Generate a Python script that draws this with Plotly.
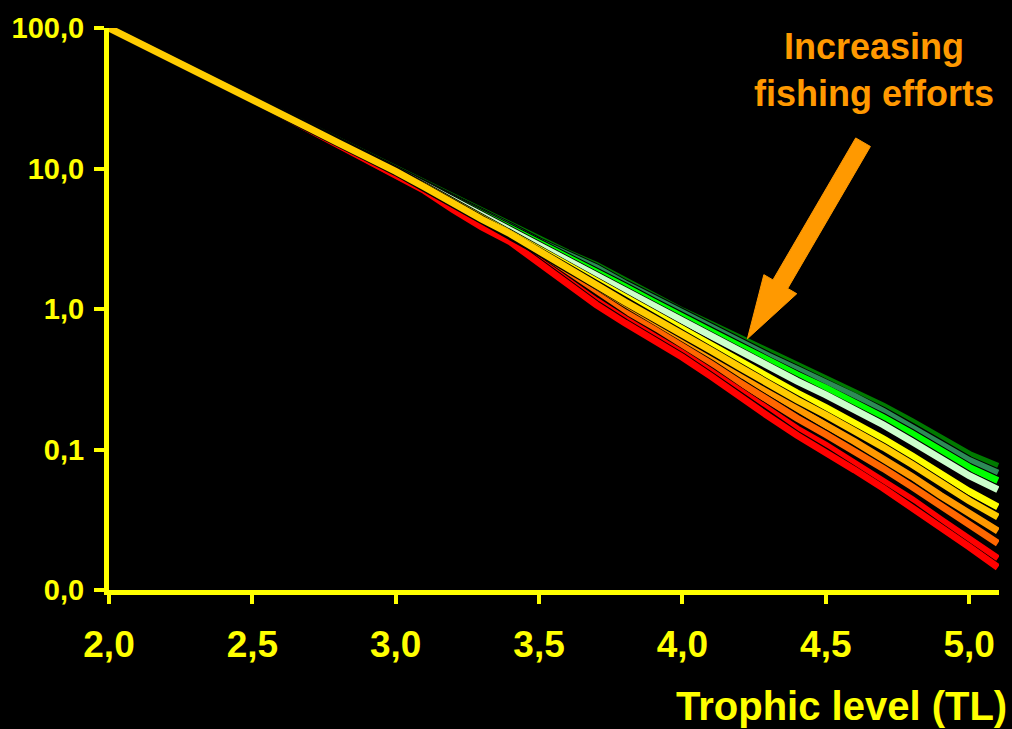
import plotly.graph_objects as go

# Trophic level (x) and relative biomass per fishing-effort scenario (log y)
trophic_level = [2.0, 2.1, 2.2, 2.3, 2.4, 2.5, 2.6, 2.7, 2.8, 2.9, 3.0, 3.1, 3.2, 3.3, 3.4, 3.5,
                 3.6, 3.7, 3.8, 3.9, 4.0, 4.1, 4.2, 4.3, 4.4, 4.5, 4.6, 4.7, 4.8, 4.9, 5.0, 5.1]

effort_0 = [100, 79.4, 63.1, 50.0, 39.6, 31.4, 24.9, 19.7, 15.6, 12.4, 9.86, 7.82, 6.21, 4.93, 3.91, 3.09,
            2.51, 2.04, 1.58, 1.24, 0.968, 0.776, 0.624, 0.496, 0.400, 0.324, 0.260, 0.204, 0.158, 0.120, 0.0923, 0.0759]
effort_1 = [100, 79.4, 63.1, 50.0, 39.6, 31.4, 24.8, 19.7, 15.6, 12.4, 9.82, 7.76, 6.13, 4.85, 3.84, 3.01,
            2.43, 1.96, 1.51, 1.19, 0.921, 0.734, 0.585, 0.462, 0.371, 0.299, 0.239, 0.187, 0.144, 0.109, 0.0835, 0.0680]
effort_2 = [100, 79.4, 63.1, 50.0, 39.6, 31.4, 24.8, 19.6, 15.5, 12.3, 9.77, 7.69, 6.04, 4.76, 3.77, 2.93,
            2.34, 1.87, 1.44, 1.12, 0.871, 0.689, 0.545, 0.427, 0.340, 0.273, 0.217, 0.169, 0.130, 0.0978, 0.0746, 0.0602]
effort_3 = [100, 79.4, 63.1, 50.0, 39.6, 31.3, 24.7, 19.5, 15.4, 12.2, 9.71, 7.61, 5.94, 4.65, 3.68, 2.83,
            2.24, 1.76, 1.35, 1.05, 0.813, 0.638, 0.499, 0.388, 0.307, 0.245, 0.193, 0.150, 0.114, 0.0857, 0.0651, 0.0518]
effort_4 = [100, 79.4, 63.1, 50.0, 39.5, 31.2, 24.6, 19.4, 15.3, 12.1, 9.59, 7.46, 5.74, 4.46, 3.52, 2.65,
            2.05, 1.58, 1.20, 0.932, 0.715, 0.552, 0.424, 0.324, 0.252, 0.199, 0.155, 0.119, 0.0901, 0.0669, 0.0503, 0.0391]
effort_5 = [100, 79.4, 63.1, 50.0, 39.5, 31.2, 24.5, 19.3, 15.2, 12.1, 9.53, 7.38, 5.63, 4.35, 3.42, 2.56,
            1.95, 1.48, 1.12, 0.866, 0.662, 0.507, 0.385, 0.292, 0.225, 0.176, 0.136, 0.104, 0.0784, 0.0578, 0.0432, 0.0331]
effort_6 = [100, 79.4, 63.1, 50.0, 39.5, 31.1, 24.5, 19.2, 15.1, 12.0, 9.44, 7.26, 5.48, 4.19, 3.30, 2.42,
            1.82, 1.35, 1.02, 0.783, 0.595, 0.450, 0.336, 0.252, 0.191, 0.149, 0.114, 0.0862, 0.0643, 0.0471, 0.0349, 0.0263]
effort_7 = [100, 79.4, 63.1, 50.0, 39.4, 31.1, 24.4, 19.1, 15.0, 11.9, 9.36, 7.16, 5.35, 4.07, 3.20, 2.32,
            1.71, 1.25, 0.938, 0.717, 0.543, 0.406, 0.299, 0.222, 0.167, 0.128, 0.0976, 0.0734, 0.0544, 0.0395, 0.0291, 0.0215]
effort_8 = [100, 79.4, 63.1, 50.0, 39.4, 31.0, 24.3, 19.0, 14.9, 11.8, 9.26, 7.04, 5.20, 3.92, 3.07, 2.19,
            1.58, 1.14, 0.845, 0.643, 0.485, 0.358, 0.259, 0.189, 0.140, 0.107, 0.0804, 0.0599, 0.0441, 0.0317, 0.0232, 0.0168]
effort_9 = [100, 79.4, 63.1, 50.0, 39.4, 31.0, 24.2, 18.9, 14.9, 11.7, 9.21, 6.97, 5.10, 3.83, 3.00, 2.11,
            1.51, 1.07, 0.794, 0.603, 0.453, 0.331, 0.237, 0.172, 0.126, 0.0956, 0.0716, 0.0531, 0.0388, 0.0278, 0.0203, 0.0145]

x_tick_vals = [2.0, 2.5, 3.0, 3.5, 4.0, 4.5, 5.0]
x_tick_text = ["2,0", "2,5", "3,0", "3,5", "4,0", "4,5", "5,0"]
y_tick_vals = [100, 10, 1, 0.1, 0.01]
y_tick_text = ["100,0", "10,0", "1,0", "0,1", "0,0"]

series = [
    (effort_0, "#007A00"),
    (effort_1, "#2E8B57"),
    (effort_2, "#00FF00"),
    (effort_3, "#CCFFCC"),
    (effort_4, "#FFFF00"),
    (effort_6, "#FF9900"),
    (effort_7, "#FF6600"),
    (effort_8, "#FF0000"),
    (effort_9, "#FF0000"),
    (effort_5, "#FFCC00"),
]

YELLOW = "#FFFF00"
FONT = "Liberation Sans, Arial, sans-serif"

fig = go.Figure()
for vals, col in series:
    fig.add_trace(go.Scatter(x=trophic_level, y=vals, mode="lines",
                             line=dict(color="black", width=9), hoverinfo="skip"))
    fig.add_trace(go.Scatter(x=trophic_level, y=vals, mode="lines",
                             line=dict(color=col, width=7), hoverinfo="skip"))

L, R, T, B = 106.5, 12.6, 24, 139
W, H = 1012, 729
pw, ph = W - L - R, H - T - B


def px(xp):
    return (xp - L) / pw


def py(yp):
    return (H - B - yp) / ph


# block arrow (pixel vertices -> paper coords)
arrow_px = [(855.6, 134.7), (870.4, 143.3), (787.4, 286.3), (796.5, 291.6),
            (747.0, 337.0), (763.5, 272.4), (772.6, 277.7)]
path = "M " + " L ".join(f"{px(a):.4f},{py(b):.4f}" for a, b in arrow_px) + " Z"
fig.add_shape(type="path", path=path, xref="paper", yref="paper",
              fillcolor="#FF9900", line=dict(color="#FF9900", width=1))

fig.add_annotation(text="Increasing<br>fishing efforts", xref="paper", yref="paper",
                   x=px(874), y=py(66), xanchor="center", yanchor="middle", showarrow=False,
                   font=dict(family=FONT, size=36, color="#FF9900", weight="bold"))

fig.add_annotation(text="Trophic level (TL)", xref="paper", yref="paper",
                   x=px(1009), y=py(707), xanchor="right", yanchor="middle", showarrow=False,
                   font=dict(family=FONT, size=40, color=YELLOW, weight="bold"))

fig.update_layout(
    width=W, height=H,
    margin=dict(l=L, r=R, t=T, b=B),
    paper_bgcolor="black", plot_bgcolor="black",
    showlegend=False,
    xaxis=dict(range=[2.0, 5.104], tickvals=x_tick_vals, ticktext=x_tick_text,
               showgrid=False, zeroline=False, showline=True, linecolor=YELLOW, linewidth=5,
               ticks="outside", ticklen=9, tickwidth=4, tickcolor=YELLOW,
               ticklabelstandoff=9,
               tickfont=dict(family=FONT, size=37, color=YELLOW, weight="bold")),
    yaxis=dict(type="log", range=[-2, 2], tickvals=y_tick_vals, ticktext=y_tick_text,
               showgrid=False, zeroline=False, showline=True, linecolor=YELLOW, linewidth=5,
               ticks="outside", ticklen=10, tickwidth=4, tickcolor=YELLOW,
               ticklabelstandoff=4,
               tickfont=dict(family=FONT, size=29, color=YELLOW, weight="bold")),
)

fig.write_html("out.html")
